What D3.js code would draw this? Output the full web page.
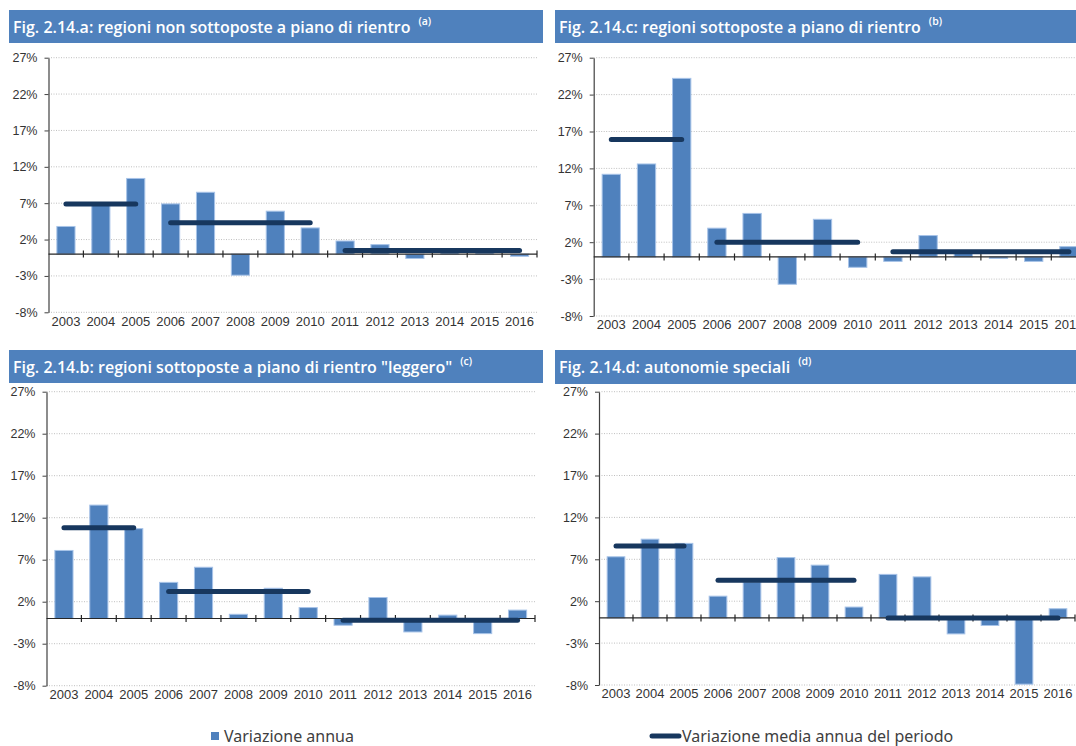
<!DOCTYPE html>
<html>
<head>
<meta charset="utf-8">
<script src="https://cdn.jsdelivr.net/npm/d3@7"></script>
<style>
  body { margin: 0; background: #fff; }
  svg { display: block; font-family: "Noto Sans", sans-serif; }
</style>
</head>
<body>
<svg id="chart" width="1076" height="746"></svg>
<script>
// categories and ticks
const years = ["2003", "2004", "2005", "2006", "2007", "2008", "2009", "2010", "2011", "2012", "2013", "2014", "2015", "2016"];
const yTicks = [-8, -3, 2, 7, 12, 17, 22, 27];
const periods = [["2003", "2005"], ["2006", "2010"], ["2011", "2016"]];

// Fig. 2.14.a - variazione annua (%) e media del periodo
const annuaA = [3.8, 6.7, 10.4, 6.9, 8.5, -2.9, 5.9, 3.6, 1.8, 1.3, -0.6, 0.3, 0.2, -0.3];
const mediaA = [6.9, 4.3, 0.5];
// Fig. 2.14.c
const annuaC = [11.2, 12.6, 24.2, 3.9, 5.9, -3.7, 5.1, -1.4, -0.6, 2.9, 0.8, -0.2, -0.6, 1.4];
const mediaC = [15.9, 2.0, 0.7];
// Fig. 2.14.b
const annuaB = [8.1, 13.5, 10.7, 4.3, 6.1, 0.5, 3.6, 1.3, -0.8, 2.5, -1.6, 0.4, -1.8, 1.0];
const mediaB = [10.8, 3.2, -0.2];
// Fig. 2.14.d
const annuaD = [7.3, 9.4, 8.9, 2.6, 4.3, 7.2, 6.3, 1.3, 5.2, 4.9, -1.9, -0.9, -7.9, 1.1];
const mediaD = [8.6, 4.5, 0.0];

const titles = [
  "Fig. 2.14.a: regioni non sottoposte a piano di rientro",
  "Fig. 2.14.c: regioni sottoposte a piano di rientro",
  "Fig. 2.14.b: regioni sottoposte a piano di rientro \"leggero\"",
  "Fig. 2.14.d: autonomie speciali"
];
const notes = ["(a)", "(b)", "(c)", "(d)"];
const legendLabels = ["Variazione annua", "Variazione media annua del periodo"];

const barColor = "#4f81bd";
const lineColor = "#17375e";

// layout of the four panels
const panels = [
  { title: titles[0], note: notes[0], annua: annuaA, media: mediaA,
    bx: 9, by: 10, bw: 534, bh: 33, x0: 48.5, x1: 537, yTop: 57.7, yBot: 312.3 },
  { title: titles[1], note: notes[1], annua: annuaC, media: mediaC,
    bx: 555, by: 10, bw: 521, bh: 33, x0: 593.7, x1: 1086.5, yTop: 57.7, yBot: 316 },
  { title: titles[2], note: notes[2], annua: annuaB, media: mediaB,
    bx: 9, by: 350, bw: 534, bh: 33, x0: 46.5, x1: 535, yTop: 391.7, yBot: 685.7 },
  { title: titles[3], note: notes[3], annua: annuaD, media: mediaD,
    bx: 555, by: 350, bw: 521, bh: 34, x0: 599, x1: 1075, yTop: 391.7, yBot: 685 }
];

const svg = d3.select("#chart");

panels.forEach(p => {
  const g = svg.append("g");

  // title bar
  g.append("rect")
    .attr("x", p.bx).attr("y", p.by)
    .attr("width", p.bw).attr("height", p.bh)
    .attr("fill", barColor);

  const t = g.append("text")
    .attr("x", p.bx + 4).attr("y", p.by + 23)
    .attr("fill", "#fff")
    .style("font-family", "'Open Sans', sans-serif")
    .style("font-weight", 600)
    .style("font-size", "16px");
  t.append("tspan").text(p.title);
  t.append("tspan")
    .attr("dx", 8).attr("dy", -8)
    .style("font-size", "10.5px")
    .text(p.note);

  // scales
  const x = d3.scaleBand().domain(years).range([p.x0, p.x1]);
  const y = d3.scaleLinear().domain([-8, 27]).range([p.yBot, p.yTop]);

  // gridlines
  g.append("g")
    .selectAll("line")
    .data(yTicks)
    .join("line")
    .attr("x1", p.x0).attr("x2", p.x1)
    .attr("y1", d => y(d)).attr("y2", d => y(d))
    .attr("stroke", "#bfbfbf")
    .attr("stroke-width", 1)
    .attr("stroke-dasharray", "1,1.5");

  // y axis
  const yAxis = g.append("g")
    .attr("transform", `translate(${p.x0},0)`)
    .call(d3.axisLeft(y).tickValues(yTicks).tickFormat(d => d + "%")
      .tickSize(4).tickSizeOuter(0).tickPadding(7));
  yAxis.select(".domain").attr("stroke", "#404040").attr("stroke-width", 1.2);
  yAxis.selectAll(".tick line").attr("stroke", "#404040");
  yAxis.selectAll("text")
    .attr("fill", "#333")
    .style("font-size", "12.5px");

  // bars
  const bw = x.bandwidth() * 0.52;
  g.append("g")
    .selectAll("rect")
    .data(p.annua)
    .join("rect")
    .attr("x", (d, i) => x(years[i]) + (x.bandwidth() - bw) / 2)
    .attr("y", d => y(Math.max(0, d)))
    .attr("width", bw)
    .attr("height", d => Math.abs(y(d) - y(0)))
    .attr("fill", barColor)
    .attr("stroke", "#a7c3e8")
    .attr("stroke-width", 1);

  // zero line with cross ticks
  g.append("line")
    .attr("x1", p.x0).attr("x2", p.x1)
    .attr("y1", y(0)).attr("y2", y(0))
    .attr("stroke", "#262626").attr("stroke-width", 1.2);
  g.append("g")
    .selectAll("line")
    .data(years.slice(1).concat(["end"]))
    .join("line")
    .attr("x1", d => d === "end" ? p.x1 : x(d))
    .attr("x2", d => d === "end" ? p.x1 : x(d))
    .attr("y1", y(0) - 3.5).attr("y2", y(0) + 3.5)
    .attr("stroke", "#262626").attr("stroke-width", 1.2);

  // x labels
  const xAxis = g.append("g")
    .attr("transform", `translate(0,${p.yBot})`)
    .call(d3.axisBottom(x).tickSize(0).tickPadding(4));
  xAxis.select(".domain").remove();
  xAxis.selectAll("text")
    .attr("fill", "#333")
    .style("font-size", "13px");

  // period averages
  g.append("g")
    .selectAll("line")
    .data(p.media)
    .join("line")
    .attr("x1", (d, i) => x(periods[i][0]) + x.bandwidth() / 2)
    .attr("x2", (d, i) => x(periods[i][1]) + x.bandwidth() / 2)
    .attr("y1", d => y(d)).attr("y2", d => y(d))
    .attr("stroke", lineColor)
    .attr("stroke-width", 5)
    .attr("stroke-linecap", "round");
});

// legend
const legend = svg.append("g").style("font-size", "16px").attr("fill", "#404040");
legend.append("rect")
  .attr("x", 211).attr("y", 732)
  .attr("width", 8).attr("height", 8)
  .attr("fill", barColor);
legend.append("text")
  .attr("x", 224).attr("y", 742)
  .text(legendLabels[0]);
legend.append("line")
  .attr("x1", 652).attr("x2", 679)
  .attr("y1", 736).attr("y2", 736)
  .attr("stroke", lineColor).attr("stroke-width", 5)
  .attr("stroke-linecap", "round");
legend.append("text")
  .attr("x", 682).attr("y", 742)
  .text(legendLabels[1]);
</script>
</body>
</html>
